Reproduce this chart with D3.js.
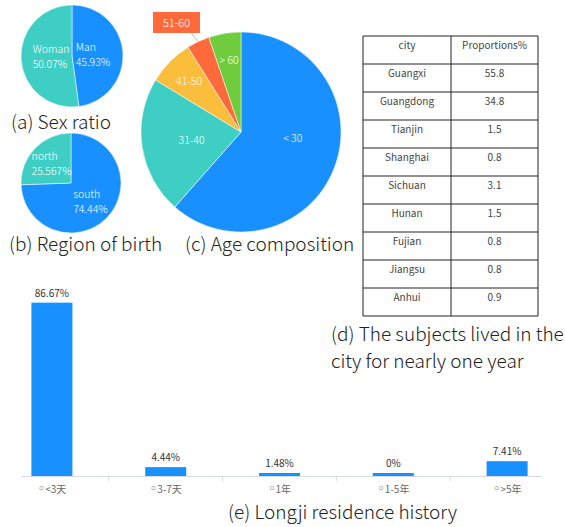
<!DOCTYPE html>
<html>
<head>
<meta charset="utf-8">
<script src="https://cdn.jsdelivr.net/npm/d3@7"></script>
<style>
  body { margin: 0; background: #fff; }
  svg { display: block; font-family: "Noto Sans CJK SC", "Noto Sans", sans-serif; }
</style>
</head>
<body>
<div id="chart"></div>
<script>
var w = 565;
var h = 527;

// (a) sex ratio
var sexLabels = ["Man", "Woman"];
var sexValues = [45.93, 50.07];

// (b) region of birth
var regionLabels = ["south", "north"];
var regionValues = [74.44, 25.567];

// (c) age composition
var ageLabels = ["< 30", "31-40", "41-50", "51-60", "> 60"];
var ageValues = [61.5, 22.2, 7.4, 3.7, 5.2];

// (d) table
var tableHeader = ["city", "Proportions%"];
var cities = ["Guangxi", "Guangdong", "Tianjin", "Shanghai", "Sichuan", "Hunan", "Fujian", "Jiangsu", "Anhui"];
var proportions = ["55.8", "34.8", "1.5", "0.8", "3.1", "1.5", "0.8", "0.8", "0.9"];

// (e) residence history
var residenceLabels = ["◦<3天", "◦3-7天", "◦1年", "◦1-5年", "◦>5年"];
var residenceValues = [86.67, 4.44, 1.48, 0, 7.41];

var blue = "#1890ff", teal = "#3fcec3", yellow = "#fbbd3c", orange = "#ff6a3c", green = "#6fcd3d";

var svg = d3.select("#chart").append("svg").attr("width", w).attr("height", h);

var pie = d3.pie().sort(null);

function drawPie(cx, cy, r, values, colors) {
  var g = svg.append("g").attr("transform", "translate(" + cx + "," + cy + ")");
  var arcs = pie(values);
  var arc = d3.arc().innerRadius(0).outerRadius(r);
  g.selectAll("path")
    .data(arcs)
    .enter()
    .append("path")
    .attr("d", arc)
    .attr("fill", (d, i) => colors[i])
    .attr("stroke", "#fff")
    .attr("stroke-width", 0.5);
  return { g: g, arcs: arcs };
}

// one or two lines of white text, left aligned, centred on pos
function label2(g, pos, line1, line2) {
  var t = g.append("g").attr("transform", "translate(" + pos[0] + "," + pos[1] + ")");
  t.append("text").text(line1).attr("y", line2 ? -4 : 4);
  if (line2) t.append("text").text(line2).attr("y", 11);
  t.selectAll("text")
    .attr("font-size", "10.5px")
    .attr("font-weight", 300)
    .attr("fill", "#fff");
  var wmax = d3.max(t.selectAll("text").nodes(), (n) => n.getComputedTextLength());
  t.selectAll("text").attr("x", -wmax / 2);
}

// (a)
var pa = drawPie(72, 56, 51, sexValues, [blue, teal]);
pa.arcs.forEach(function (d, i) {
  var c = d3.arc().innerRadius(21).outerRadius(21).centroid(d);
  label2(pa.g, c, sexLabels[i], sexValues[i] + "%");
});

// (b)
var pb = drawPie(71, 183, 50, regionValues, [blue, teal]);
pb.arcs.forEach(function (d, i) {
  var c = d3.arc().innerRadius(27).outerRadius(27).centroid(d);
  label2(pb.g, c, regionLabels[i], regionValues[i] + "%");
});

// (c)
var pc = drawPie(241, 132, 100, ageValues, [blue, teal, yellow, orange, green]);
pc.arcs.forEach(function (d, i) {
  if (ageLabels[i] == "51-60") {
    // small slice: label outside in a box with a leader line
    var mid = (d.startAngle + d.endAngle) / 2;
    var p0 = [Math.sin(mid) * 100, -Math.cos(mid) * 100];
    pc.g.append("polyline")
      .attr("points", [p0, [p0[0] - 8, p0[1] - 10], [-48, -99]].join(" "))
      .attr("fill", "none")
      .attr("stroke", "#bbb")
      .attr("stroke-width", 1);
    pc.g.append("rect")
      .attr("x", -88).attr("y", -120)
      .attr("width", 47).attr("height", 21)
      .attr("fill", orange);
    pc.g.append("text")
      .attr("x", -64.5).attr("y", -105.5)
      .attr("text-anchor", "middle")
      .attr("font-size", "11px")
      .attr("font-weight", 300)
      .attr("fill", "#fff")
      .text(ageLabels[i]);
    return;
  }
  var big = d.endAngle - d.startAngle > 0.6;
  var rr = big ? 50 : 73;
  var c = d3.arc().innerRadius(rr).outerRadius(rr).centroid(d);
  if (i == 0) c = [c[0] + 5, c[1] - 12];
  label2(pc.g, c, ageLabels[i]);
});

// (d) table
var tx0 = 363, tx1 = 451, tx2 = 538, ty0 = 36, rowH = 28;
var rows = [tableHeader].concat(cities.map((c, i) => [c, proportions[i]]));
var rowScale = d3.scaleBand().domain(d3.range(rows.length)).range([ty0, ty0 + rowH * rows.length]);
var tg = svg.append("g");
tg.selectAll("line.row")
  .data(d3.range(rows.length + 1))
  .enter()
  .append("line")
  .attr("x1", tx0).attr("x2", tx2)
  .attr("y1", (d) => ty0 + d * rowH)
  .attr("y2", (d) => ty0 + d * rowH)
  .attr("stroke", "#222");
[tx0, tx1, tx2].forEach(function (x) {
  tg.append("line")
    .attr("x1", x).attr("x2", x)
    .attr("y1", ty0).attr("y2", ty0 + rowH * rows.length)
    .attr("stroke", "#222");
});
tg.selectAll("g.r")
  .data(rows)
  .enter()
  .append("g")
  .each(function (row, i) {
    var y = rowScale(i) + 13;
    d3.select(this).append("text").attr("x", (tx0 + tx1) / 2).attr("y", y).text(row[0]);
    d3.select(this).append("text").attr("x", (tx1 + tx2) / 2).attr("y", y).text(row[1]);
  })
  .selectAll("text")
  .attr("text-anchor", "middle")
  .attr("font-size", "10px")
  .attr("fill", "#444");

// (e) bar chart
var base = 476;
var xScale = d3.scaleBand().domain(residenceLabels).range([-5, 564]);
var yScale = d3.scaleLinear().domain([0, 100]).range([base, 276]);
var barW = 41;

svg.append("line")
  .attr("x1", 22).attr("x2", 542)
  .attr("y1", base + 0.5).attr("y2", base + 0.5)
  .attr("stroke", "#d5dbe3");
residenceLabels.slice(1).forEach(function (c) {
  svg.append("line")
    .attr("x1", xScale(c)).attr("x2", xScale(c))
    .attr("y1", base).attr("y2", base + 5)
    .attr("stroke", "#d5dbe3");
});

svg.selectAll("rect.bar")
  .data(residenceValues)
  .enter()
  .append("rect")
  .attr("x", (d, i) => xScale(residenceLabels[i]) + xScale.bandwidth() / 2 - barW / 2)
  .attr("y", (d) => Math.min(yScale(d), base - 3))
  .attr("width", barW)
  .attr("height", (d) => Math.max(base - yScale(d), 3))
  .attr("fill", blue);

svg.selectAll("text.val")
  .data(residenceValues)
  .enter()
  .append("text")
  .attr("x", (d, i) => xScale(residenceLabels[i]) + xScale.bandwidth() / 2)
  .attr("y", (d) => Math.min(yScale(d), base - 3) - 6)
  .attr("text-anchor", "middle")
  .attr("font-size", "10px")
  .attr("fill", "#333")
  .text((d) => d + "%");

var ticks = svg.selectAll("text.tick")
  .data(residenceLabels)
  .enter()
  .append("text")
  .attr("x", (d) => xScale(d) + xScale.bandwidth() / 2)
  .attr("y", base + 17)
  .attr("text-anchor", "middle")
  .attr("font-size", "10px")
  .attr("fill", "#666");
ticks.append("tspan")
  .attr("font-family", "DejaVu Sans")
  .attr("font-size", "13px")
  .text((d) => d.slice(0, 1));
ticks.append("tspan").text((d) => d.slice(1));

// captions (each entry may hold several lines)
var captions = [
  [["(a) Sex ratio"], 11, 129],
  [["(b) Region of birth"], 9, 251],
  [["(c) Age composition"], 185, 251],
  [["(d) The subjects lived in the", "city for nearly one year"], 331, 341],
  [["(e) Longji residence history"], 228, 519],
];
svg.selectAll("text.cap")
  .data(captions)
  .enter()
  .append("text")
  .attr("y", (d) => d[2])
  .attr("font-size", "19px")
  .attr("font-weight", 300)
  .attr("fill", "#222")
  .each(function (d) {
    d3.select(this).selectAll("tspan")
      .data(d[0])
      .enter()
      .append("tspan")
      .attr("x", d[1])
      .attr("dy", (s, i) => (i ? 27 : 0))
      .text((s) => s);
  });
</script>
</body>
</html>
